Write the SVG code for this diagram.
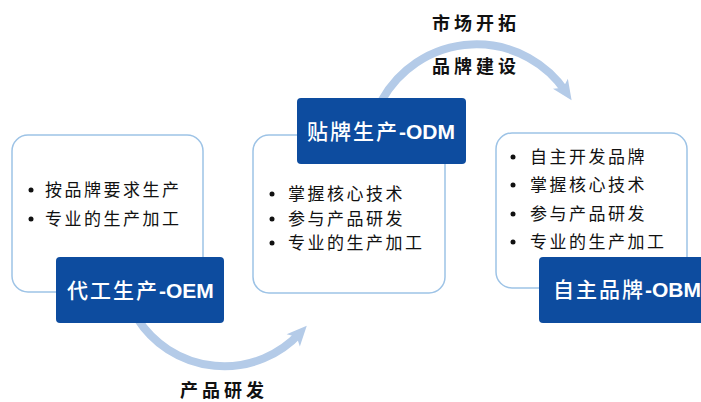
<svg xmlns="http://www.w3.org/2000/svg" width="701" height="402" viewBox="0 0 701 402">
<style>
.panel{fill:#fff;stroke:#9dc3e6;stroke-width:1.5}
.tag{fill:#0d4c9f}
.tagtxt{fill:#fff;font-family:"Liberation Sans","Noto Sans CJK SC",sans-serif;font-size:21px;font-weight:bold}
.cjk{font-family:"Noto Sans CJK SC",sans-serif;font-weight:500;letter-spacing:2px}
.item{fill:#111;font-family:"Noto Sans CJK SC",sans-serif;font-size:17px;letter-spacing:2.5px}
.dot{fill:#111}
.flow{fill:none;stroke:#b4cbe8;stroke-width:8}
.lbl{fill:#111;font-family:"Noto Sans CJK SC",sans-serif;font-size:18px;font-weight:bold;letter-spacing:4px}
</style>
<defs>
<marker id="ah" markerUnits="userSpaceOnUse" markerWidth="24" markerHeight="24" viewBox="0 0 24 24" refX="12" refY="12" orient="auto">
<path d="M2,3 L22,12 L2,21 L7,12 Z" fill="#b4cbe8"/>
</marker>
</defs>
<g id="connectors">
<path class="flow" d="M137,318 A103,103 0 0 0 300,333" marker-end="url(#ah)"/>
<path class="flow" d="M382,100 A108,108 0 0 1 566,92" marker-end="url(#ah)"/>
<text class="lbl" x="180" y="397">产品研发</text>
<text class="lbl" x="432" y="30">市场开拓</text>
<text class="lbl" x="432" y="73">品牌建设</text>
</g>
<g id="oem">
<rect class="panel" x="12" y="135" width="191" height="157" rx="16"/>
<circle class="dot" cx="31" cy="190" r="2.5"/>
<text class="item" x="45" y="196">按品牌要求生产</text>
<circle class="dot" cx="31" cy="219" r="2.5"/>
<text class="item" x="45" y="225">专业的生产加工</text>
<rect class="tag" x="56" y="257" width="168" height="66" rx="4"/>
<text class="tagtxt" x="67" y="298"><tspan class="cjk">代工生产</tspan>-OEM</text>
</g>
<g id="odm">
<rect class="panel" x="253" y="135" width="192" height="158" rx="16"/>
<rect class="tag" x="297" y="98" width="169" height="66" rx="4"/>
<text class="tagtxt" x="307" y="139"><tspan class="cjk">贴牌生产</tspan>-ODM</text>
<circle class="dot" cx="272" cy="194" r="2.5"/>
<text class="item" x="288" y="200">掌握核心技术</text>
<circle class="dot" cx="272" cy="219" r="2.5"/>
<text class="item" x="288" y="225">参与产品研发</text>
<circle class="dot" cx="272" cy="243" r="2.5"/>
<text class="item" x="288" y="249">专业的生产加工</text>
</g>
<g id="obm">
<rect class="panel" x="496" y="133" width="191" height="155" rx="16"/>
<circle class="dot" cx="513" cy="157" r="2.5"/>
<text class="item" x="530" y="163">自主开发品牌</text>
<circle class="dot" cx="513" cy="185" r="2.5"/>
<text class="item" x="530" y="191">掌握核心技术</text>
<circle class="dot" cx="513" cy="214" r="2.5"/>
<text class="item" x="530" y="220">参与产品研发</text>
<circle class="dot" cx="513" cy="242" r="2.5"/>
<text class="item" x="530" y="248">专业的生产加工</text>
<rect class="tag" x="539" y="257" width="172" height="66" rx="4"/>
<text class="tagtxt" x="553" y="297"><tspan class="cjk">自主品牌</tspan>-OBM</text>
</g>
</svg>
